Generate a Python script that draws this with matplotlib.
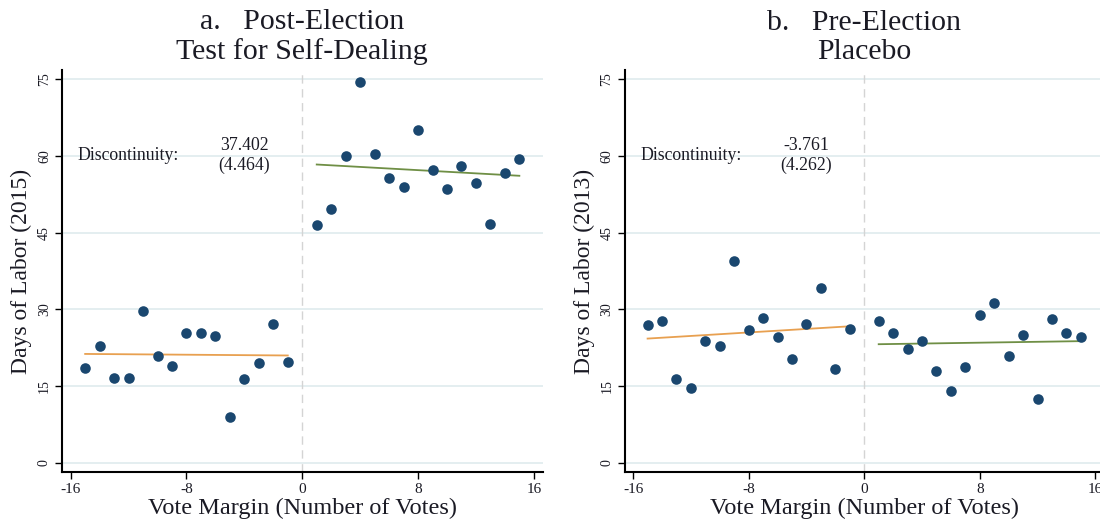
import matplotlib.pyplot as plt

# vote margin bins
margin_left = [-15, -14, -13, -12, -11, -10, -9, -8, -7, -6, -5, -4, -3, -2, -1]
margin_right = [1, 2, 3, 4, 5, 6, 7, 8, 9, 10, 11, 12, 13, 14, 15]

# a. post-election, days of labor (2015)
post_left = [18.6, 22.8, 16.6, 16.6, 29.7, 20.9, 19.0, 25.3, 25.3, 24.8, 9.0, 16.5, 19.5, 27.2, 19.7]
post_right = [46.5, 49.7, 60.0, 74.4, 60.3, 55.6, 54.0, 65.0, 57.3, 53.5, 58.0, 54.7, 46.6, 56.6, 59.3]
post_fit_left = [21.3, 21.0]
post_fit_right = [58.3, 56.1]

# b. pre-election, days of labor (2013)
pre_left = [26.9, 27.8, 16.5, 14.7, 23.9, 22.9, 39.4, 25.9, 28.3, 24.6, 20.4, 27.1, 34.2, 18.4, 26.1]
pre_right = [27.7, 25.4, 22.2, 23.9, 17.9, 14.0, 18.8, 29.0, 31.3, 20.9, 25.0, 12.5, 28.1, 25.4, 24.6]
pre_fit_left = [24.3, 26.7]
pre_fit_right = [23.2, 23.8]

titles = ["a.   Post-Election\nTest for Self-Dealing", "b.   Pre-Election\nPlacebo"]
ylabels = ["Days of Labor (2015)", "Days of Labor (2013)"]
estimates = ["37.402\n(4.464)", "-3.761\n(4.262)"]

xticks = [-16, -8, 0, 8, 16]
yticks = [0, 15, 30, 45, 60, 75]

NAVY = "#1a476f"
ORANGE = "#e8a050"
GREEN = "#6f8f45"
TEXT = "#1a1a24"


def plot():
    plt.rcParams["font.family"] = ["Liberation Serif", "DejaVu Serif"]
    fig = plt.figure(figsize=(11, 5.23), dpi=100)

    W, H = 1100, 523
    # left, right, top, bottom in pixels
    boxes = [(62, 542.5, 70, 472), (624.5, 1104, 70, 472)]

    panels = [
        (post_left, post_right, post_fit_left, post_fit_right),
        (pre_left, pre_right, pre_fit_left, pre_fit_right),
    ]

    for k, (l, r, t, b) in enumerate(boxes):
        ax = fig.add_axes((l / W, (H - b) / H, (r - l) / W, (b - t) / H))
        yl, yr, fl, fr = panels[k]

        for y in yticks:
            ax.axhline(y, color="#e4eef0", lw=1.4, zorder=0)
        ax.axvline(0, color="#d4d4d4", lw=1.0, ls=(0, (6, 4)), zorder=0)

        ax.plot([margin_left[0], margin_left[-1]], fl, color=ORANGE, lw=1.3, zorder=2)
        ax.plot([margin_right[0], margin_right[-1]], fr, color=GREEN, lw=1.3, zorder=2)

        ax.scatter(margin_left, yl, s=58, color=NAVY, zorder=3, linewidths=0)
        ax.scatter(margin_right, yr, s=58, color=NAVY, zorder=3, linewidths=0)

        ax.set_xlim(-16.6, 16.6)
        ax.set_ylim(-1.76, 76.76)

        ax.set_xticks(xticks, [str(v) for v in xticks], fontsize=11)
        ax.set_yticks(yticks, [str(v) for v in yticks], fontsize=10, rotation=90, va="center")
        ax.tick_params(length=5, width=1.0, color="black", labelcolor=TEXT, pad=3)

        for s in ["top", "right"]:
            ax.spines[s].set_visible(False)
        for s in ["left", "bottom"]:
            ax.spines[s].set_linewidth(1.5)

        ax.set_xlabel("Vote Margin (Number of Votes)", fontsize=17.5, color=TEXT, labelpad=1)
        ax.set_ylabel(ylabels[k], fontsize=17, color=TEXT, labelpad=4)
        ax.set_title(titles[k], fontsize=21.5, color=TEXT, linespacing=1.12, pad=8)

        ax.text(-15.5, 60, "Discontinuity:", fontsize=12.8, color=TEXT, ha="left", va="center")
        ax.text(-4.0, 60, estimates[k], fontsize=12.8, color=TEXT, ha="center", va="center",
                linespacing=1.2)

    fig.savefig("out.png", dpi=100)
    plt.close()


if __name__ == "__main__":
    plot()
